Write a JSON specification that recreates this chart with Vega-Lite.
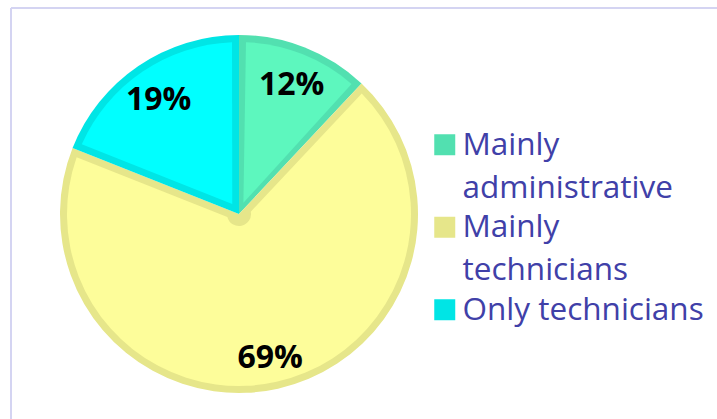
{
  "$schema": "https://vega.github.io/schema/vega-lite/v6.json",
  "autosize": {"type": "pad"},
  "padding": {"left": 10, "top": 7, "right": 0, "bottom": 0},
  "background": "white",
  "spacing": 0,
  "bounds": "flush",
  "config": {"view": {"stroke": null}},
  "hconcat": [
    {
      "width": 456,
      "height": 412,
      "view": {"stroke": "#d4d4f2", "strokeWidth": 2, "strokeDash": [456, 868, 412, 0]},
      "data": {
        "values": [
          {"category": "Mainly administrative", "share": 0.12},
          {"category": "Mainly technicians", "share": 0.69},
          {"category": "Only technicians", "share": 0.19}
        ]
      },
      "encoding": {
        "theta": {"field": "share", "type": "quantitative", "stack": true},
        "order": {"field": "category", "type": "nominal", "sort": "ascending"}
      },
      "layer": [
        {
          "mark": {"type": "arc", "outerRadius": 179},
          "encoding": {
            "color": {
              "field": "category",
              "type": "nominal",
              "scale": {"range": ["#52e0b0", "#e6e68a", "#00e5e5"]},
              "legend": {
                "title": null,
                "orient": "none",
                "legendX": 418,
                "legendY": 121,
                "padding": 0,
                "symbolType": "square",
                "symbolSize": 441,
                "symbolStrokeWidth": 0,
                "symbolOpacity": 1,
                "labelFont": "Open Sans",
                "labelFontSize": 31.5,
                "labelColor": "#4040a8",
                "labelLimit": 400,
                "labelOffset": 2,
                "labelBaseline": "top",
                "rowPadding": 6.5,
                "labelExpr": "datum.label == 'Only technicians' ? datum.label : split(datum.label, ' ')",
                "encode": {"labels": {"update": {"lineHeight": {"value": 43}, "dy": {"value": -15}}}}
              }
            }
          }
        },
        {
          "mark": {"type": "arc", "outerRadius": 172, "innerRadius": 12, "padAngle": 0.0812},
          "encoding": {
            "fill": {
              "field": "category",
              "type": "nominal",
              "scale": {"range": ["#5df7be", "#fdfd9a", "#00ffff"]},
              "legend": null
            }
          }
        },
        {
          "mark": {"type": "text", "radius": 143, "dy": 4, "font": "Open Sans", "fontSize": 32, "fontWeight": "bold", "color": "black"},
          "encoding": {
            "text": {"field": "share", "type": "quantitative", "format": ".0%"},
            "detail": {"field": "category", "type": "nominal"}
          }
        }
      ]
    },
    {
      "width": 262,
      "height": 412,
      "view": {"stroke": "#d4d4f2", "strokeWidth": 2, "strokeDash": [262, 2000]},
      "data": {"values": [{"category": "frame"}]},
      "mark": {"type": "point", "opacity": 0},
      "encoding": {}
    }
  ]
}
